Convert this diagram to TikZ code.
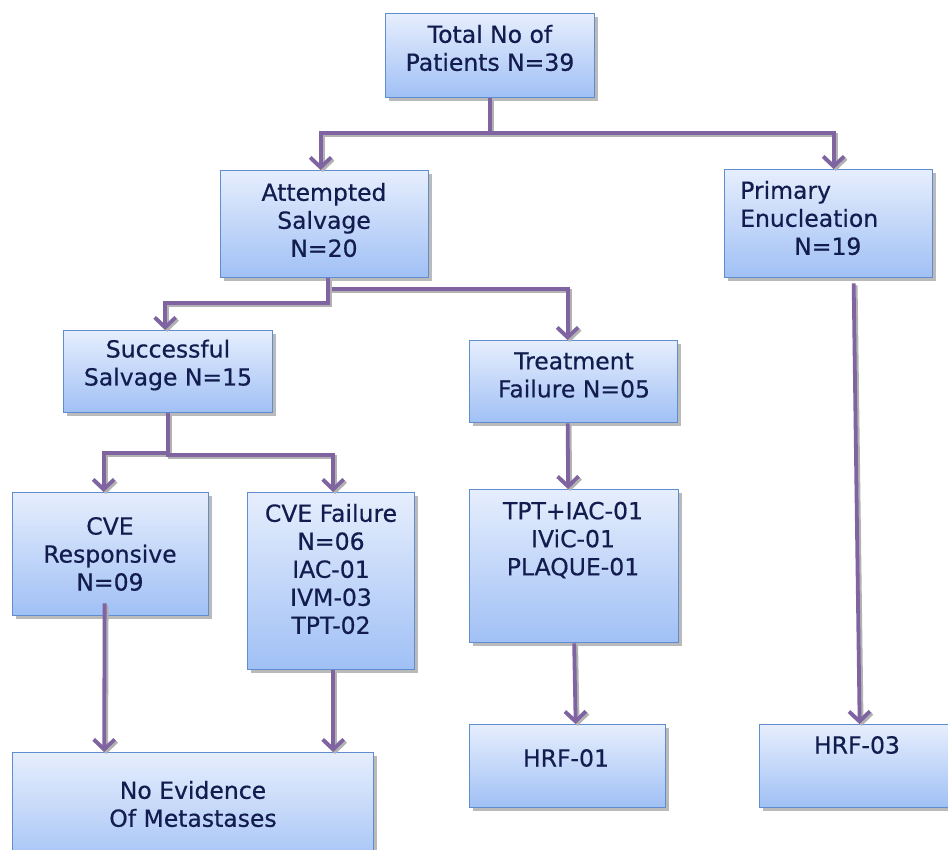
\documentclass[tikz,border=0pt]{standalone}
\usepackage{fontspec}
\setmainfont{DejaVu Sans}
\newfontfamily\boxfont[FakeBold=0.5]{DejaVu Sans}
\usetikzlibrary{arrows.meta,shadows,calc}
\definecolor{cpurple}{RGB}{128,100,162}
\definecolor{bborder}{RGB}{96,140,208}
\definecolor{btop}{RGB}{230,238,253}
\definecolor{bbot}{RGB}{160,192,245}
\definecolor{tcol}{RGB}{18,28,78}
\tikzset{
  box/.style={draw=bborder, line width=1.3pt, top color=btop, bottom color=bbot,
    drop shadow={shadow xshift=3.5pt, shadow yshift=-3.5pt, opacity=0.6, fill=gray!90},
    inner sep=0pt, anchor=north west},
  txt/.style={text=tcol, align=center, font=\boxfont\fontsize{23.5}{28}\selectfont, inner sep=0pt},
  conn/.style={draw=cpurple, line width=3.8pt, line join=miter,
    -{Straight Barb[length=10pt,width=21pt,line width=3.8pt]}},
  connsh/.style={conn, draw=gray!60, transform canvas={xshift=2pt,yshift=-2pt}},
}
\newcommand\mylink[1]{\draw[connsh] #1; \draw[conn] #1;}
\begin{document}
\begin{tikzpicture}[x=1pt,y=-1pt]
\clip (0,0) rectangle (948,850);
\fill[white] (0,0) rectangle (948,850);

% boxes
\node[box, minimum width=209pt, minimum height=84pt] (total) at (385,13) {};
\node[box, minimum width=208pt, minimum height=107pt] (att) at (220,170) {};
\node[box, minimum width=208pt, minimum height=108pt] (prim) at (724,169) {};
\node[box, minimum width=209pt, minimum height=82pt] (succ) at (63,330) {};
\node[box, minimum width=208pt, minimum height=82pt] (treat) at (469,340) {};
\node[box, minimum width=196pt, minimum height=123pt] (cver) at (12,492) {};
\node[box, minimum width=167pt, minimum height=177pt] (cvef) at (247,492) {};
\node[box, minimum width=209pt, minimum height=153pt] (tpt) at (469,489) {};
\node[box, minimum width=361pt, minimum height=120pt] (noev) at (12,752) {};
\node[box, minimum width=196pt, minimum height=83pt] (hrf1) at (469,724) {};
\node[box, minimum width=200pt, minimum height=83pt] (hrf3) at (759,724) {};

% texts
\node[txt] (totalt) at (490,48) {Total No of\\Patients N=39};
\node[txt] (attt) at (324,220) {Attempted\\Salvage\\N=20};
\node[txt, align=left, anchor=west] (primt) at (740,218) {Primary\\Enucleation\\\hspace*{54pt}N=19};
\node[txt] (succt) at (168,365) {Successful\\Salvage N=15};
\node[txt] (treatt) at (574,375) {Treatment\\Failure N=05};
\node[txt] (cvert) at (110,554) {CVE\\Responsive\\N=09};
\node[txt] (cveft) at (331,569) {CVE Failure\\N=06\\IAC-01\\IVM-03\\TPT-02};
\node[txt] (tptt) at (573,540) {TPT+IAC-01\\IViC-01\\PLAQUE-01};
\node[txt] (noevt) at (193,804) {No Evidence\\Of Metastases};
\node[txt] (hrf1t) at (566,758) {HRF-01};
\node[txt] (hrf3t) at (857,745) {HRF-03};

% connectors
\mylink{(total.south) -- ++(0,35) -| ([xshift=-4pt]att.north)}
\mylink{(total.south) -- ++(0,35) -| ([xshift=5pt]prim.north)}
\mylink{([xshift=3pt]att.south) -- ++(0,11) -| ([xshift=-6pt]treat.north)}
\mylink{([xshift=3pt]att.south) -- ++(0,25) -| ([xshift=-3pt]succ.north)}
\mylink{(succ.south) -- ++(0,40) -| ([xshift=-7pt]cver.north)}
\mylink{(succ.south) -- ++(0,42) -| ([xshift=2pt]cvef.north)}
\mylink{([xshift=-6pt,yshift=13pt]cver.south) -- ([xshift=-89pt]noev.north)}
\mylink{([xshift=2pt]cvef.south) -- ([xshift=140pt]noev.north)}
\mylink{([xshift=-6pt]treat.south) -- ([xshift=-6pt]tpt.north)}
\mylink{([xshift=0pt]tpt.south) -- ([xshift=8pt]hrf1.north)}
\mylink{([xshift=25pt,yshift=-5pt]prim.south) -- (hrf3.north)}
\end{tikzpicture}
\end{document}
